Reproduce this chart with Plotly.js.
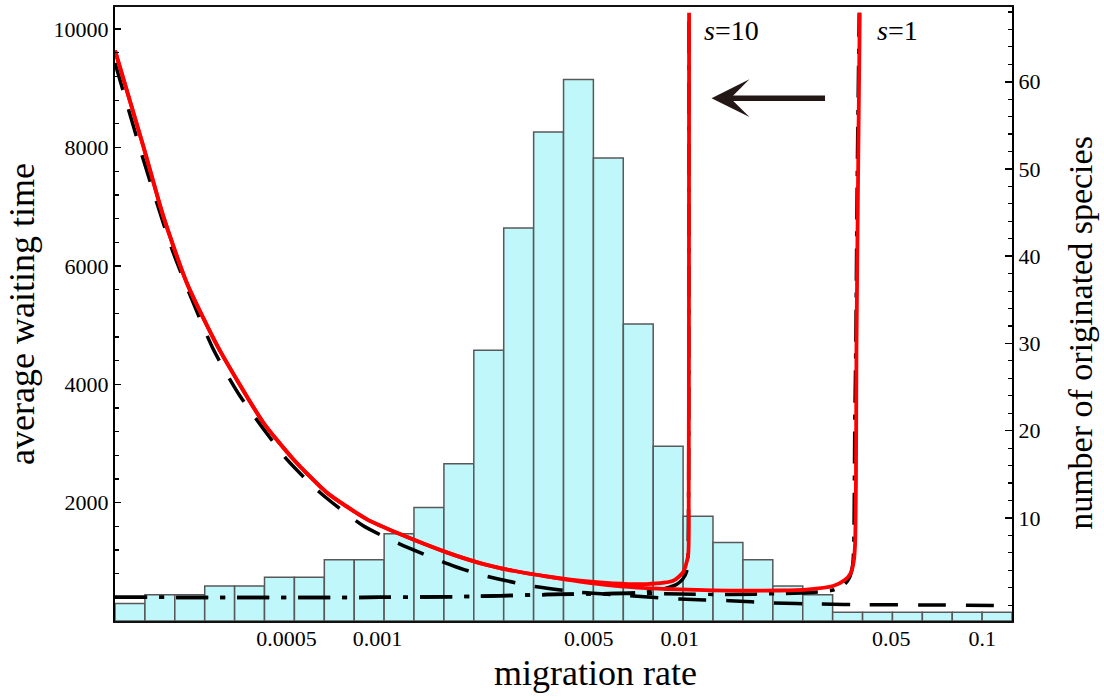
<!DOCTYPE html>
<html>
<head>
<meta charset="utf-8">
<script src="https://cdn.plot.ly/plotly-3.0.1.min.js"></script>
<style>html,body{margin:0;padding:0;background:#fff}#chart{width:1104px;height:697px}</style>
</head>
<body>
<div id="chart"></div>
<script>
// ---------- tick labels ----------
const rateTicks = [0.0005, 0.001, 0.005, 0.01, 0.05, 0.1];
const rateTickText = ["0.0005", "0.001", "0.005", "0.01", "0.05", "0.1"];
const waitTicks = [2000, 4000, 6000, 8000, 10000];
const waitTickText = ["2000", "4000", "6000", "8000", "10000"];
const speciesTicks = [10, 20, 30, 40, 50, 60];
const speciesTickText = ["10", "20", "30", "40", "50", "60"];

// ---------- histogram: number of originated species per migration-rate bin ----------
const binCenters = [0.0001519, 0.0001908, 0.0002395, 0.0003008, 0.0003777, 0.0004742, 0.0005955, 0.0007478,
  0.0009391, 0.001179, 0.001480, 0.001859, 0.002334, 0.002931, 0.003681, 0.004622, 0.005803, 0.007288,
  0.009152, 0.01149, 0.01443, 0.01812, 0.02276, 0.02857, 0.03588, 0.04506, 0.05656, 0.07104, 0.0892, 0.1120];
const speciesCounts = [2, 3, 3, 4, 4, 5, 5, 7, 7, 10, 13, 18, 31, 45, 56, 62, 53, 34, 20, 12, 9, 7, 4, 3, 1, 1, 1, 1, 1, 1];

// ---------- red solid, s = 10 ----------
const s10Rate = [0.0001356, 0.0001682, 0.0001958, 0.0002341, 0.0002977, 0.0004193, 0.0005269, 0.0006795, 0.0009211,
  0.001187, 0.001694, 0.002182, 0.002811, 0.003625, 0.004671, 0.006018, 0.007761, 0.009504, 0.01025, 0.01065,
  0.01070, 0.01072, 0.01073];
const s10Wait = [9640, 8022, 6840, 5716, 4619, 3354, 2734, 2172, 1722,
  1468, 1159, 979, 849, 754, 680, 636, 624, 680, 822, 1102,
  2059, 5435, 10278];

// ---------- red solid, s = 1 ----------
const s1Rate = [0.0001356, 0.0001682, 0.0001958, 0.0002341, 0.0002977, 0.0004193, 0.0005269, 0.0006795, 0.0009211,
  0.001187, 0.001694, 0.002182, 0.002811, 0.003625, 0.004671, 0.006018, 0.007761, 0.01, 0.01289, 0.01661,
  0.02141, 0.02623, 0.03212, 0.03512, 0.03676, 0.03761, 0.03798, 0.03824, 0.03838, 0.03885, 0.03936];
const s1Wait = [9640, 8022, 6840, 5716, 4619, 3354, 2734, 2172, 1722,
  1468, 1159, 979, 849, 754, 667, 599, 557, 535, 518, 511,
  515, 532, 591, 692, 810, 1013, 1300, 2397, 4591, 7460, 10278];

// ---------- black long-dashed approximation ----------
const dashRate = [0.0001356, 0.0001682, 0.0002113, 0.0002866, 0.0003512, 0.000501, 0.0006455, 0.0008976, 0.001187,
  0.001781, 0.002182, 0.003193, 0.004671, 0.006836, 0.01, 0.01463, 0.02034, 0.02902, 0.0412, 0.07235, 0.1252];
const dashWait = [9430, 7797, 6223, 4591, 3803, 2734, 2172, 1608, 1300,
  933, 786, 596, 484, 427, 371, 343, 304, 287, 275, 270, 258];

// ---------- black dash-dot approximation, s = 10 ----------
const dd10Rate = [0.0001356, 0.001019, 0.002182, 0.003625, 0.006018, 0.007761, 0.008807, 0.009752, 0.01023, 0.01052,
  0.01063, 0.01069, 0.01072];
const dd10Wait = [400, 400, 417, 447, 464, 489, 540, 616, 709, 827, 1046, 2059, 10278];

// ---------- black dash-dot approximation, s = 1 ----------
const dd1Rate = [0.0001356, 0.001019, 0.002182, 0.003625, 0.006018, 0.01, 0.01463, 0.02141, 0.02691, 0.03212,
  0.03512, 0.03648, 0.03732, 0.03761, 0.03790, 0.03818, 0.03860, 0.03920];
const dd1Wait = [400, 400, 417, 447, 464, 456, 447, 464, 481, 523, 624, 743, 962, 1300, 3359, 4591, 7460, 10278];

const xLogRange = [-3.8678, -0.9015];
const serif = '"Liberation Serif", "Times New Roman", Times, serif';
const smooth = {shape: 'spline', smoothing: 0.6};

const traces = [
  // histogram on the main (bottom) subplot
  {type: 'bar', x: binCenters.map(v => Math.log10(v)), y: speciesCounts, xaxis: 'x', yaxis: 'y',
   marker: {color: 'rgb(191,247,250)', line: {color: 'rgb(88,88,88)', width: 1.5}},
   hoverinfo: 'skip', showlegend: false},
  // waiting-time curves drawn above the bars
  {type: 'scatter', mode: 'lines', x: dashRate, y: dashWait, xaxis: 'x2', yaxis: 'y2',
   line: Object.assign({color: '#000', width: 3.5, dash: '28px,20px'}, smooth), showlegend: false},
  {type: 'scatter', mode: 'lines', x: dd10Rate, y: dd10Wait, xaxis: 'x2', yaxis: 'y2',
   line: Object.assign({color: '#000', width: 3.5, dash: '32px,12px,5px,12px'}, smooth), showlegend: false},
  {type: 'scatter', mode: 'lines', x: dd1Rate, y: dd1Wait, xaxis: 'x2', yaxis: 'y2',
   line: Object.assign({color: '#000', width: 3.5, dash: '32px,12px,5px,12px'}, smooth), showlegend: false},
  {type: 'scatter', mode: 'lines', x: s1Rate, y: s1Wait, xaxis: 'x2', yaxis: 'y2', name: 's=1',
   line: Object.assign({color: '#ff0000', width: 3.8}, smooth), showlegend: false},
  {type: 'scatter', mode: 'lines', x: s10Rate, y: s10Wait, xaxis: 'x2', yaxis: 'y2', name: 's=10',
   line: Object.assign({color: '#ff0000', width: 3.8}, smooth), showlegend: false},
  // carrier for the right-hand species axis
  {type: 'scatter', mode: 'lines', x: [null], y: [null], xaxis: 'x2', yaxis: 'y3', showlegend: false, hoverinfo: 'skip'}
];

const layout = {
  width: 1104, height: 697,
  margin: {l: 115, r: 92, t: 7, b: 76, pad: 0},
  paper_bgcolor: '#fff', plot_bgcolor: '#fff',
  font: {family: serif, size: 22, color: '#000'},
  showlegend: false, bargap: 0, hovermode: false,
  xaxis: {range: xLogRange, visible: false},
  yaxis: {range: [0, 70.3], visible: false},
  xaxis2: {overlaying: 'x', type: 'log', range: xLogRange, tickmode: 'array', tickvals: rateTicks, ticktext: rateTickText,
    ticks: '', showgrid: false, zeroline: false, showline: true, linecolor: '#111', linewidth: 2, mirror: true,
    ticklabelstandoff: -3, tickfont: {size: 22, family: serif}},
  yaxis2: {overlaying: 'y', side: 'left', range: [0, 10375], tickmode: 'array', tickvals: waitTicks, ticktext: waitTickText,
    ticks: 'inside', ticklen: 6, tickwidth: 1.5, tickcolor: '#000',
    minor: {tickmode: 'linear', tick0: 0, dtick: 400, ticks: 'inside', ticklen: 3.5, tickwidth: 1.2, tickcolor: '#000'},
    showgrid: false, zeroline: false, showline: true, linecolor: '#000', linewidth: 2,
    tickfont: {size: 22, family: serif},
    title: {text: 'average waiting time', font: {size: 36, family: serif}, standoff: 8}},
  yaxis3: {overlaying: 'y', side: 'right', range: [-1.82, 68.57], tickmode: 'array', tickvals: speciesTicks, ticktext: speciesTickText,
    ticks: 'inside', ticklen: 7, tickwidth: 1.5, tickcolor: '#000',
    minor: {tickmode: 'linear', tick0: 0, dtick: 2, ticks: 'inside', ticklen: 4, tickwidth: 1.2, tickcolor: '#000'},
    showgrid: false, zeroline: false, showline: true, linecolor: '#000', linewidth: 2,
    tickfont: {size: 22, family: serif}},
  annotations: [
    {xref: 'x2', yref: 'y2', x: -1.8952, y: 8835, ax: 115, ay: 0, axref: 'pixel', ayref: 'pixel',
     showarrow: true, arrowhead: 3, arrowsize: 1.15, arrowwidth: 5.5, arrowcolor: '#231815', text: ''},
    {xref: 'x2', yref: 'y2', x: -1.9283, y: 9975, xanchor: 'left', yanchor: 'middle', showarrow: false,
     text: '<i>s</i>=10', font: {size: 28, family: serif, color: '#000'}},
    {xref: 'x2', yref: 'y2', x: -1.3554, y: 9975, xanchor: 'left', yanchor: 'middle', showarrow: false,
     text: '<i>s</i>=1', font: {size: 28, family: serif, color: '#000'}},
    {xref: 'paper', yref: 'paper', x: 0.5355, y: -0.0847, xanchor: 'center', yanchor: 'middle', showarrow: false,
     text: 'migration rate', font: {size: 36, family: serif, color: '#000'}},
    {xref: 'paper', yref: 'paper', x: 1.0765, y: 0.4687, xanchor: 'center', yanchor: 'middle', showarrow: false,
     textangle: -90, text: 'number of originated species', font: {size: 34, family: serif, color: '#000'}}
  ]
};

Plotly.newPlot('chart', traces, layout, {staticPlot: true, displayModeBar: false});
</script>
</body>
</html>
